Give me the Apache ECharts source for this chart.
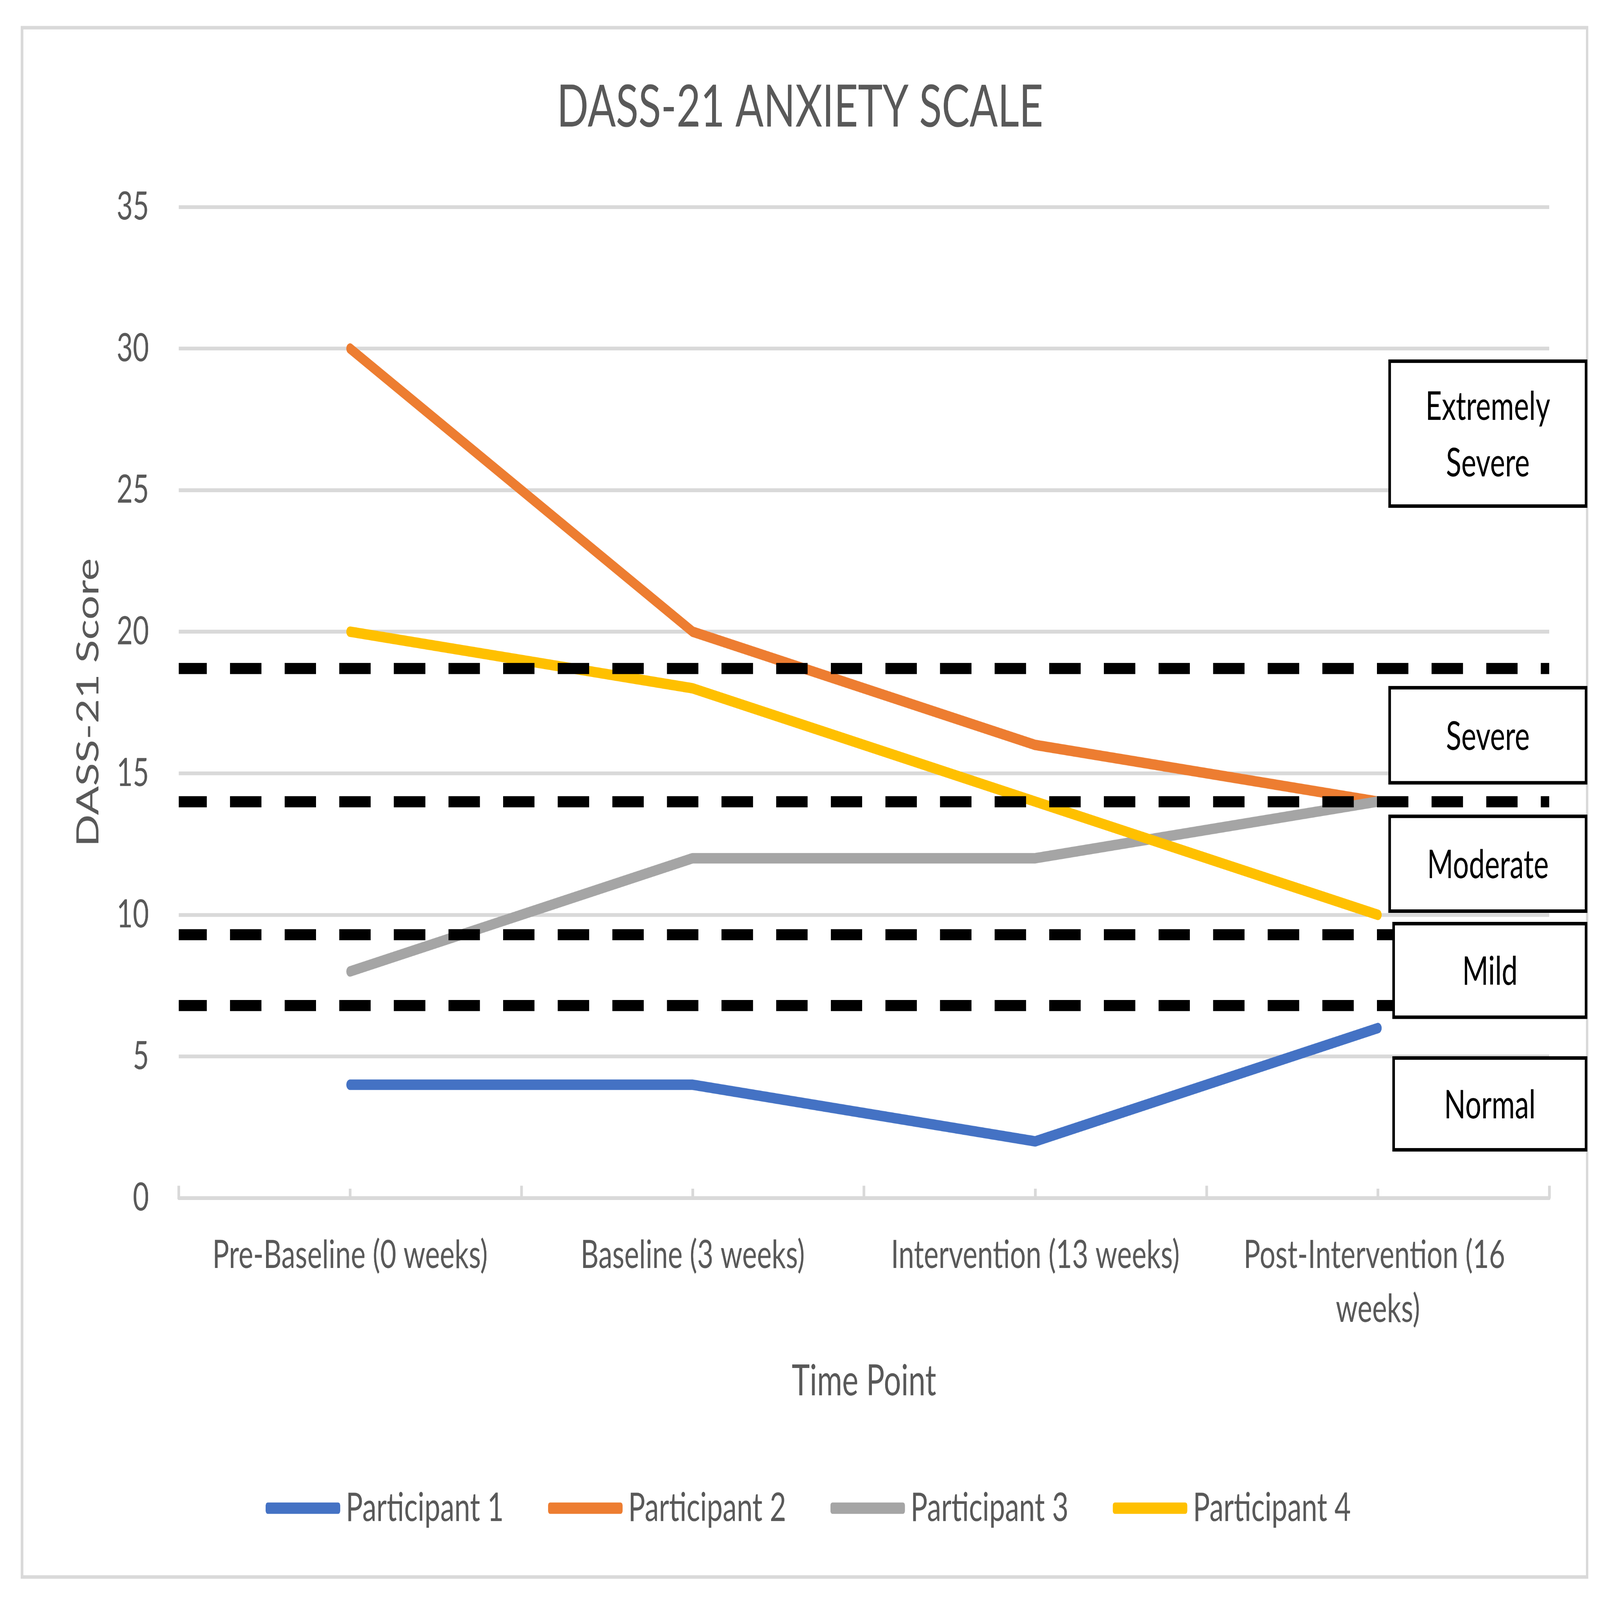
<!DOCTYPE html>
<html>
<head>
<meta charset="utf-8">
<script src="https://cdn.jsdelivr.net/npm/echarts@6/dist/echarts.min.js"></script>
<style>
html,body{margin:0;padding:0;background:#fff;overflow:hidden;}
#chart{width:7690px;height:5488px;transform-origin:0 0;}
</style>
</head>
<body>
<div id="chart"></div>
<script>
// ---- data ----
var categories = ['Pre-Baseline (0 weeks)', 'Baseline (3 weeks)', 'Intervention (13 weeks)', 'Post-Intervention (16 weeks)'];
var seriesNames = ['Participant 1', 'Participant 2', 'Participant 3', 'Participant 4'];
var participant1 = [4, 4, 2, 6];
var participant2 = [30, 20, 16, 14];
var participant3 = [8, 12, 12, 14];
var participant4 = [20, 18, 14, 10];
var thresholds = [18.7, 14, 9.3, 6.8];
var bandLabels = ['Extremely\nSevere', 'Severe', 'Moderate', 'Mild', 'Normal'];
var yTicks = [0, 5, 10, 15, 20, 25, 30, 35];

var colors = ['#4472C4', '#ED7D31', '#A5A5A5', '#FFC000'];
var FONT = 'Lato';
var GREY = '#595959';

// fit the 7690 x 5488 drawing to whatever window it is opened in
var el = document.getElementById('chart');
var vw = window.innerWidth || 7690, vh = window.innerHeight || 5488;
var sx = vw / 7690, sy = vh / 5488;
if (Math.abs(sx - 1) > 0.001 || Math.abs(sy - 1) > 0.001) {
  el.style.transform = 'scale(' + sx + ',' + sy + ')';
}

// annotation boxes (pixel layout: outer edges)
var boxes = [
  {x0: 6673, y0: 1233, x1: 7629, y1: 1742},
  {x0: 6673, y0: 2353, x1: 7629, y1: 2691},
  {x0: 6673, y0: 2794, x1: 7629, y1: 3131},
  {x0: 6692, y0: 3162, x1: 7629, y1: 3495},
  {x0: 6692, y0: 3623, x1: 7629, y1: 3950}
];
var BW = 12;
var graphics = [{
  type: 'rect', z: 1,
  shape: {x: 106, y: 95, width: 7522, height: 5314},
  style: {fill: 'none', stroke: '#d9d9d9', lineWidth: 12},
  silent: true
}];
boxes.forEach(function (b, i) {
  graphics.push({
    type: 'rect', z: 200,
    shape: {x: b.x0 + BW / 2, y: b.y0 + BW / 2, width: b.x1 - b.x0 - BW, height: b.y1 - b.y0 - BW},
    style: {fill: '#ffffff', stroke: '#000000', lineWidth: BW}
  });
  graphics.push({
    type: 'text', z: 201,
    x: (b.x0 + b.x1) / 2, y: (b.y0 + b.y1) / 2 + 6,
    style: {
      text: bandLabels[i], fill: '#000000', font: '136px ' + FONT,
      align: 'center', verticalAlign: 'middle', lineHeight: 194
    }
  });
});

var dataSets = [participant1, participant2, participant3, participant4];
var series = dataSets.map(function (d, i) {
  var s = {
    name: seriesNames[i], type: 'line', data: d,
    symbol: 'none', smooth: false,
    lineStyle: {color: colors[i], width: 36, cap: 'round', join: 'round'},
    itemStyle: {color: colors[i]},
    z: 2 + i
  };
  if (i === 3) {
    s.markLine = {
      silent: true, symbol: ['none', 'none'], z: 10,
      label: {show: false},
      lineStyle: {color: '#000000', width: 38, type: [151, 111.5], dashOffset: 16, cap: 'butt', opacity: 1},
      emphasis: {disabled: true},
      data: thresholds.map(function (t) { return {yAxis: t}; })
    };
  }
  return s;
});

var chart = echarts.init(el);
chart.setOption({
  backgroundColor: '#ffffff',
  animation: false,
  color: colors,
  title: {
    text: 'DASS-21 ANXIETY SCALE',
    left: 'center', top: 264,
    textStyle: {fontFamily: FONT, fontSize: 200, fontWeight: 'normal', color: GREY}
  },
  legend: {
    data: seriesNames,
    left: 1272, top: 5100,
    itemWidth: 358, itemHeight: 39, itemGap: 213,
    icon: 'roundRect',
    textStyle: {fontFamily: FONT, fontSize: 136, color: GREY, padding: [0, 0, 0, 22]}
  },
  grid: {left: 859, right: 244, top: 710, bottom: 1379, containLabel: false},
  xAxis: [{
    type: 'category', data: categories, boundaryGap: true,
    name: 'Time Point', nameLocation: 'middle', nameGap: 556,
    nameTextStyle: {fontFamily: FONT, fontSize: 147, color: GREY},
    axisLine: {lineStyle: {color: '#d9d9d9', width: 13}},
    axisTick: {show: true, inside: true, length: 42, lineStyle: {color: '#d9d9d9', width: 13}},
    axisLabel: {
      interval: 0, fontFamily: FONT, fontSize: 134, color: GREY, margin: 104,
      lineHeight: 185, width: 1640, overflow: 'break'
    },
    splitLine: {show: false}
  }, {
    type: 'value', min: 0, max: 8, interval: 1, position: 'bottom',
    axisLine: {show: false},
    axisTick: {show: true, inside: true, length: 32, lineStyle: {color: '#d9d9d9', width: 13}},
    axisLabel: {show: false},
    splitLine: {show: false}
  }],
  yAxis: {
    type: 'value', min: 0, max: 35, interval: 5,
    name: 'DASS-21 Score', nameLocation: 'middle', nameGap: 360,
    nameTextStyle: {fontFamily: FONT, fontSize: 147, color: GREY},
    axisLine: {show: false}, axisTick: {show: false},
    axisLabel: {fontFamily: FONT, fontSize: 134, color: GREY, margin: 143},
    splitLine: {lineStyle: {color: '#d9d9d9', width: 13}}
  },
  series: series,
  graphic: graphics
});
</script>
</body>
</html>
